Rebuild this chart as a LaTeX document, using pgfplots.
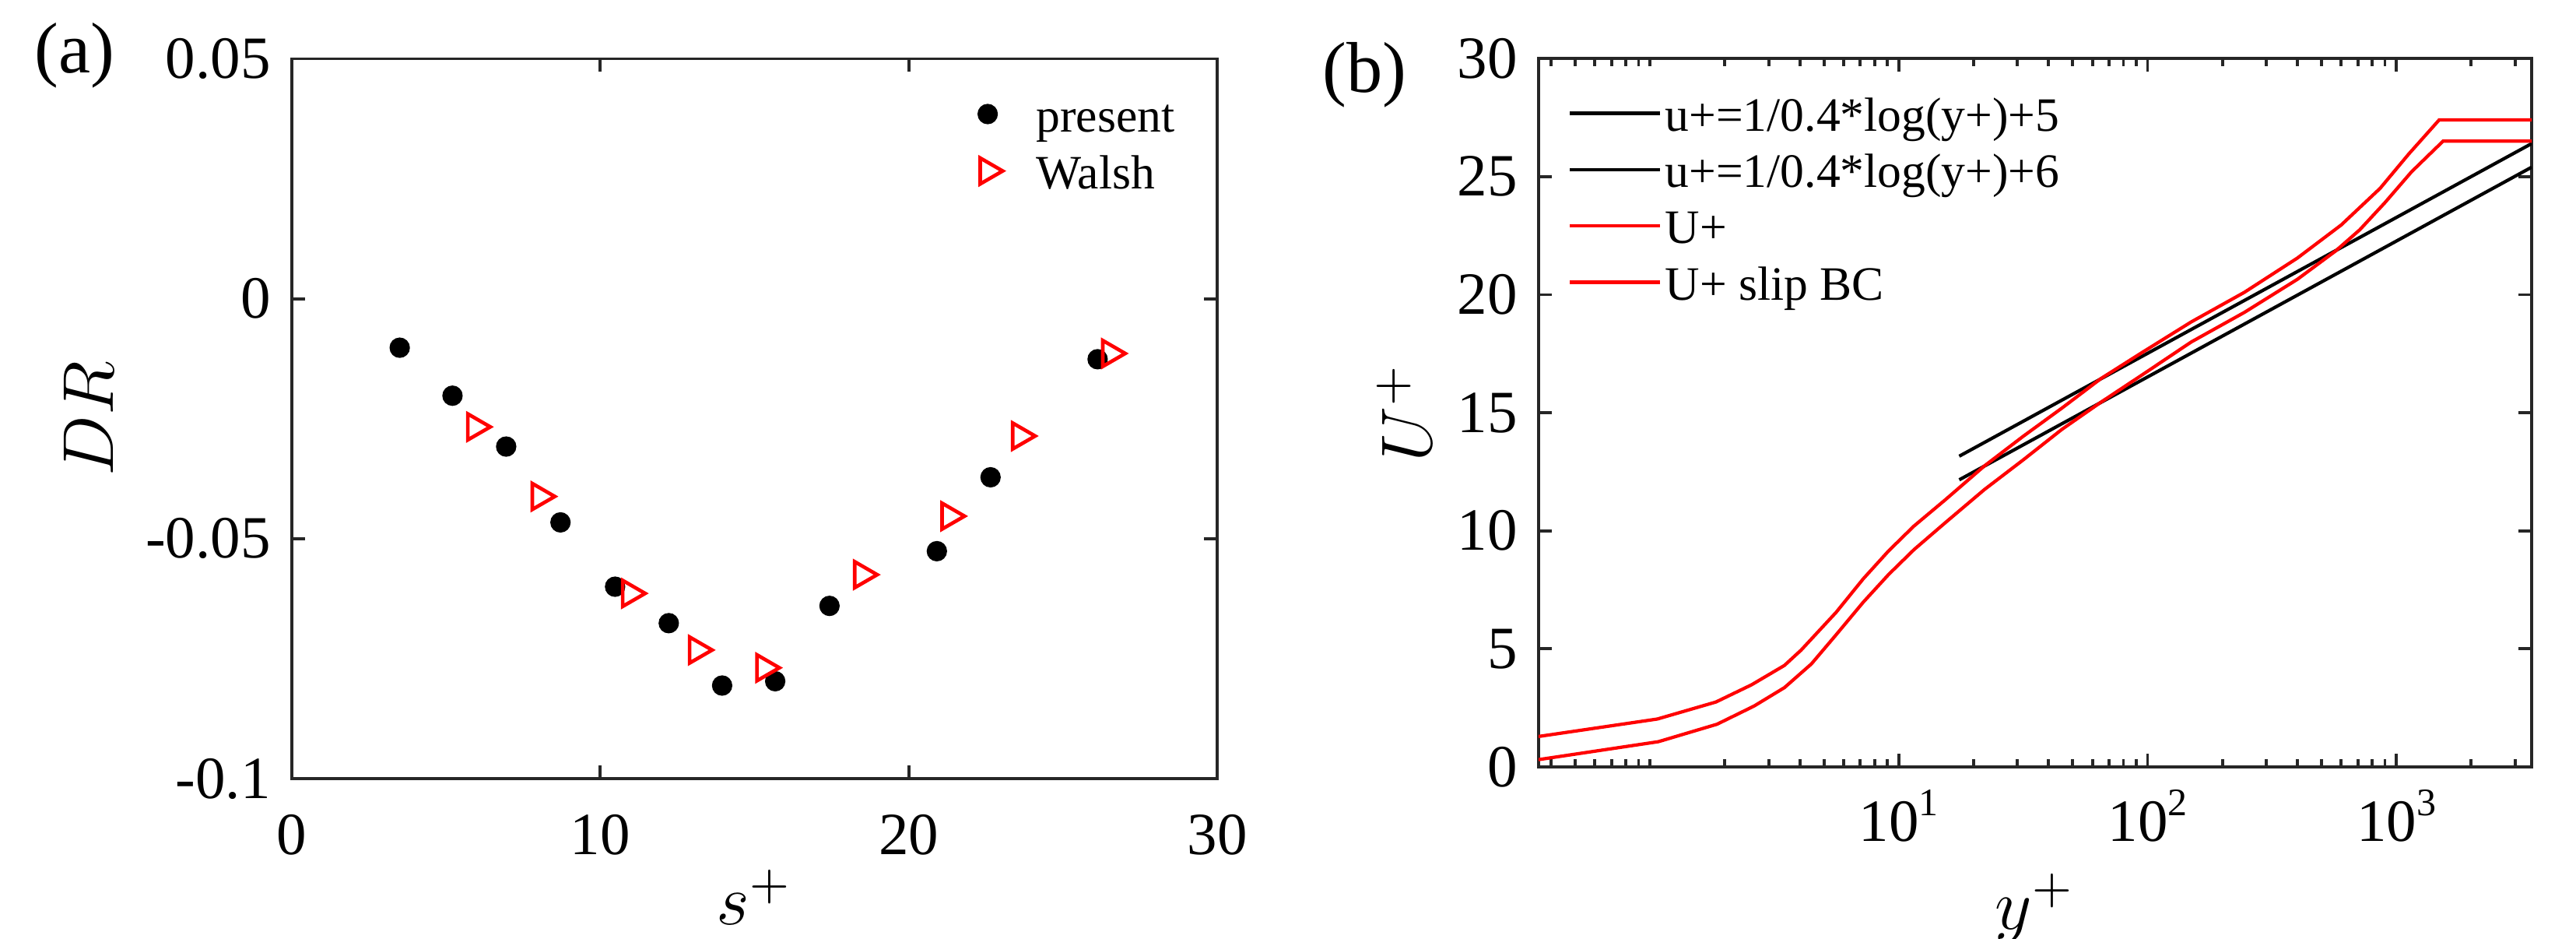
\documentclass[border=0pt]{standalone}
\usepackage{fontspec}
\setmainfont{Liberation Serif}
\usepackage{pgfplots}
\pgfplotsset{compat=1.18}
\begin{document}
\begin{tikzpicture}
\path[use as bounding box] (0,0) rectangle (430pt,156.67pt);
\pgfplotsset{
  myaxis/.style={
    scale only axis,
    axis line style={line width=0.5pt, black!85},
    every tick/.style={black!85, line width=0.5pt},
    major tick length=2.2pt, minor tick length=1.3pt,
    tick align=inside,
    tick label style={font=\fontsize{10}{12}\selectfont, black},
    label style={font=\fontsize{12}{14}\selectfont},
    /pgf/number format/assume math mode=true,
    legend cell align=left,
  }
}
\node[font=\fontsize{12}{14}\selectfont] at (12.5pt,147.4pt) {(a)};
\node[font=\fontsize{12}{14}\selectfont] at (227.8pt,144.1pt) {(b)};

\begin{axis}[myaxis, at={(48.7pt,26.75pt)}, anchor=south west,
  width=154.5pt, height=120.1pt,
  xmin=0, xmax=30, ymin=-0.1, ymax=0.05,
  xtick={0,10,20,30}, xticklabels={0,10,20,30},
  ytick={-0.1,-0.05,0,0.05}, yticklabels={-0.1,-0.05,0,0.05},
  scaled ticks=false,
  xticklabel style={yshift=-2.5pt},
  xlabel={$s^+$}, ylabel={$DR$},
  xlabel style={at={(axis description cs:0.5,-0.165)}, anchor=center},
  ylabel style={at={(axis description cs:-0.219,0.5)}, anchor=center},
  legend style={at={(axis description cs:0.715,0.962)}, anchor=north west,
    draw=none, fill=none, inner sep=0pt, row sep=0.6pt,
    font=\fontsize{8}{9.6}\selectfont,
    nodes={inner sep=0.6pt, text height=6.8pt, text depth=0.9pt}},
  legend image code/.code={\path[draw=none,fill=none] (0pt,-0.5pt) rectangle (11pt,0.5pt);\draw[mark repeat=2,mark phase=2,#1] plot coordinates {(0pt,0pt)(5.5pt,0pt)(11pt,0pt)};},
  /tikz/every odd column/.append style={column sep=2pt},
]
\addplot[only marks, mark=*, mark size=1.5pt, black] coordinates {
(3.50,-0.0102) (5.21,-0.0202) (6.95,-0.0308) (8.71,-0.0466)
(10.48,-0.0600) (12.22,-0.0676) (13.95,-0.0806) (15.67,-0.0797)
(17.43,-0.0640) (20.91,-0.0526) (22.65,-0.0372) (26.12,-0.0126)
};
\addlegendentry{present}
\addplot[only marks, mark=triangle, mark size=2.5pt, red,
  mark options={rotate=-90, line width=0.6pt, fill=none}] coordinates {
(5.95,-0.0267) (8.04,-0.0412) (10.97,-0.0614) (13.14,-0.0732)
(15.32,-0.0769) (18.49,-0.0575) (21.32,-0.0453) (23.61,-0.0286)
(26.53,-0.0114)
};
\addlegendentry{Walsh}
\end{axis}

\begin{axis}[myaxis, at={(256.8pt,28.7pt)}, anchor=south west,
  width=165.8pt, height=118.2pt,
  xmode=log, log basis x=10,
  xmin=0.356, xmax=3500, ymin=0, ymax=30,
  ytick={0,5,10,15,20,25,30},
  xtick={10,100,1000},
  xticklabels={{10\raisebox{4.3pt}{\fontsize{6.5}{7}\selectfont 1}},{10\raisebox{4.3pt}{\fontsize{6.5}{7}\selectfont 2}},{10\raisebox{4.3pt}{\fontsize{6.5}{7}\selectfont 3}}},
  minor xtick={0.4,0.5,0.6,0.7,0.8,0.9,1,2,3,4,5,6,7,8,9,20,30,40,50,60,70,80,90,200,300,400,500,600,700,800,900,2000,3000},
  xticklabel style={yshift=-0.3pt},
  xlabel={$y^+$}, ylabel={$U^+$},
  xlabel style={at={(axis description cs:0.5,-0.20)}, anchor=center},
  ylabel style={at={(axis description cs:-0.135,0.5)}, anchor=center},
  legend style={at={(axis description cs:0.029,0.962)}, anchor=north west,
    draw=none, fill=none, inner sep=0pt, row sep=0.5pt,
    font=\fontsize{8}{9.6}\selectfont,
    nodes={inner sep=0.6pt, text height=6.8pt, text depth=0.9pt}},
  legend image code/.code={\draw[#1] (0pt,0pt) -- (15pt,0pt);},
]
\addplot[black, line width=0.55pt] coordinates {(17.5,12.16) (3500,25.40)};
\addlegendentry{u+=1/0.4*log(y+)+5}
\addplot[black, line width=0.55pt] coordinates {(17.5,13.16) (3500,26.40)};
\addlegendentry{u+=1/0.4*log(y+)+6}
\addplot[red, line width=0.55pt] coordinates {
(0.356,0.31) (1.08,1.07) (1.86,1.81) (2.62,2.58) (3.47,3.36) (4.45,4.36)
(5.6,5.6) (7.2,6.98) (9.1,8.15) (11.5,9.2) (15.4,10.35) (22.1,11.75)
(31.6,13.0) (45.3,14.3) (65,15.45) (95,16.6) (150,18.0) (245,19.25)
(400,20.65) (570,21.85) (713,22.75) (900,23.9) (1150,25.2) (1540,26.5)
(3500,26.5)
};
\addlegendentry{U+}
\addplot[red, line width=0.55pt] coordinates {
(0.356,1.29) (1.07,2.03) (1.84,2.75) (2.56,3.48) (3.47,4.3) (4.05,4.95)
(5.6,6.55) (7.2,7.97) (9.1,9.15) (11.5,10.2) (15.4,11.32) (22.1,12.75)
(31.6,14.0) (45.3,15.2) (65,16.45) (95,17.55) (150,18.85) (245,20.1)
(400,21.55) (600,22.95) (860,24.5) (1120,25.95) (1486,27.4) (3500,27.4)
};
\addlegendentry{U+ slip BC}
\end{axis}
\end{tikzpicture}
\end{document}
